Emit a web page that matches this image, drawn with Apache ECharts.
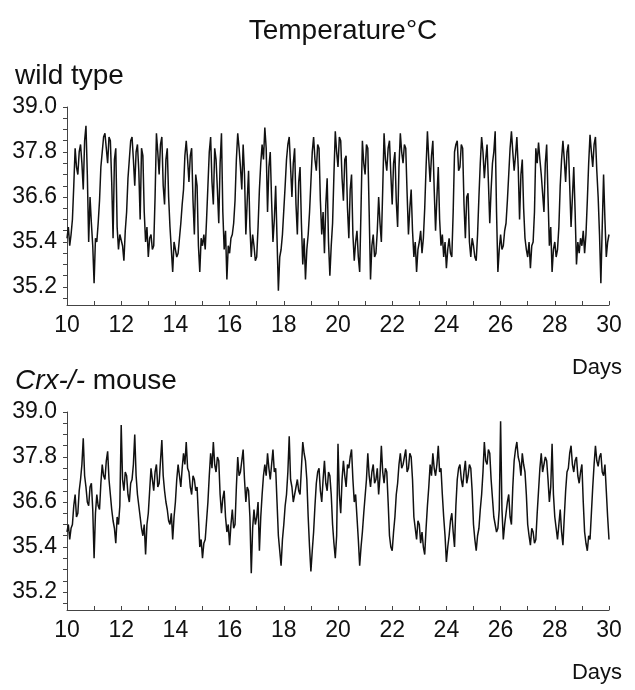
<!DOCTYPE html>
<html>
<head>
<meta charset="utf-8">
<script src="https://cdn.jsdelivr.net/npm/echarts@6/dist/echarts.min.js"></script>
<style>
html,body{margin:0;padding:0;background:#fff;}
#chart{width:635px;height:690px;}
</style>
</head>
<body>
<div id="chart"></div>
<script>
// sampling: one reading every 0.05 day starting at day 10
const startDay = 10;
const stepDay = 0.05;

// wild type body temperature (20 readings per day, days 10.00 .. 30.00)
const wildType = [
35.5,35.8,35.3,35.6,36.0,36.9,37.9,37.4,37.2,37.8,38.0,37.5,36.8,38.1,38.5,37.2,35.4,36.6,35.9,35.3,
34.3,35.5,35.4,35.9,36.5,37.4,37.8,38.2,38.3,37.9,37.5,38.2,38.1,37.0,35.5,37.6,37.9,35.8,35.2,35.6,
35.6,35.3,34.9,35.7,36.2,37.1,37.6,38.1,38.2,37.6,36.9,37.8,38.0,37.3,36.0,37.9,37.7,36.2,35.4,35.8,
35.0,35.5,35.6,35.2,35.3,36.6,38.3,37.8,37.2,38.0,38.2,36.9,36.4,37.6,37.9,36.6,35.8,35.2,34.6,35.4,
35.4,35.0,35.1,35.5,35.9,36.4,36.8,37.7,38.1,37.6,37.0,37.7,37.9,36.5,35.6,37.2,36.9,35.3,34.6,35.5,
35.3,35.6,35.2,36.0,36.9,37.8,38.2,37.0,36.4,37.9,37.6,36.8,35.9,37.5,38.3,36.2,35.2,35.7,34.4,35.3,
35.1,35.5,35.6,35.9,36.5,37.6,38.3,37.9,37.4,36.8,38.0,37.2,35.6,36.5,37.3,35.8,35.0,35.6,35.3,34.9,
35.0,35.8,36.8,37.5,38.0,37.6,38.45,37.9,36.2,37.4,37.8,36.5,35.4,36.0,36.9,35.5,34.1,35.0,35.2,35.6,
35.6,36.9,37.6,38.0,38.2,37.4,36.6,37.5,37.9,36.4,35.6,37.0,37.4,35.9,34.8,35.5,34.4,35.2,35.6,36.2,
37.0,37.8,38.2,37.6,37.3,38.0,37.9,36.5,35.6,36.2,35.1,36.4,37.1,35.4,34.5,35.3,35.9,37.2,38.35,37.8,
37.4,38.2,38.1,37.1,36.5,37.6,37.7,36.3,35.5,36.8,37.2,35.6,34.9,35.4,35.7,35.0,34.6,36.3,38.1,37.5,
37.2,38.0,37.9,36.2,34.4,35.3,35.6,35.0,35.1,35.7,36.6,35.9,35.4,36.8,38.3,37.6,37.3,37.9,38.1,37.2,
36.4,37.5,37.8,36.5,35.8,37.4,38.3,37.8,37.5,38.0,37.9,36.7,35.6,36.3,36.8,35.7,35.0,35.4,34.6,35.2,
35.4,35.7,35.1,35.5,36.3,37.4,38.35,37.6,37.0,37.7,38.1,36.8,35.7,36.6,37.4,36.0,35.3,35.6,35.0,35.4,
34.7,35.2,35.5,35.1,35.0,36.2,37.8,38.0,38.1,37.3,37.4,38.0,37.9,36.4,35.5,36.6,36.7,35.4,35.0,35.5,
35.3,35.0,34.9,35.6,36.6,37.5,38.2,37.8,37.1,37.6,38.0,37.0,35.9,36.8,37.5,37.8,38.35,36.2,34.6,35.2,
35.6,35.2,35.3,35.7,35.9,36.5,37.2,37.9,38.35,37.8,37.3,37.7,38.2,37.4,36.0,37.2,37.6,36.3,35.5,35.2,
35.0,35.4,34.7,35.3,35.4,36.2,37.9,37.5,38.05,37.6,37.2,36.7,36.2,37.5,38.0,36.6,35.3,35.8,34.6,35.2,
35.4,35.0,35.2,35.8,36.9,37.6,38.1,37.6,37.0,37.8,38.0,36.9,35.8,36.6,37.4,36.2,34.8,35.4,35.1,35.5,
35.3,35.7,35.1,35.6,36.5,37.5,38.26,37.8,37.4,38.0,38.2,37.3,36.6,35.6,34.3,35.8,37.2,36.0,35.0,35.4,
35.6
];

// Crx-/- mouse body temperature (20 readings per day, days 10.00 .. 30.00)
const crxMouse = [
35.8,36.0,35.6,35.9,36.0,36.5,36.8,36.2,36.3,36.9,37.2,37.6,38.3,37.3,37.0,36.6,36.5,37.0,37.1,36.4,
35.1,36.3,36.8,36.5,36.4,37.1,37.6,37.3,37.2,37.7,37.95,37.2,36.8,36.4,36.1,35.9,35.5,36.2,36.0,36.5,
38.65,37.2,36.9,37.4,37.3,36.8,36.6,37.1,37.2,37.6,38.4,37.3,36.8,36.5,36.2,35.9,35.7,36.0,35.2,36.0,
36.3,36.9,37.5,37.2,36.9,37.4,37.6,37.0,37.1,37.7,38.25,37.3,36.9,36.6,36.4,36.1,36.0,36.3,35.6,36.2,
36.6,37.2,37.6,37.3,37.0,37.5,37.9,37.6,38.2,37.5,37.4,37.0,36.8,37.3,37.2,36.9,37.0,36.2,35.4,35.6,
35.1,35.5,35.6,36.1,36.6,37.3,37.9,37.5,38.2,37.6,37.4,37.8,37.7,36.8,36.3,36.7,36.9,36.2,35.8,36.0,
35.45,36.0,36.4,35.9,36.0,37.0,37.8,37.3,37.4,37.7,38.0,37.2,36.6,37.0,36.9,36.2,34.7,35.9,36.4,36.0,
36.2,36.6,35.3,36.2,36.8,37.3,37.6,37.3,37.9,37.5,37.2,37.6,38.0,37.4,37.5,36.6,35.7,35.3,34.9,35.6,
36.0,36.5,36.8,37.4,38.35,37.2,37.0,36.6,36.6,37.0,37.2,36.9,36.8,37.5,38.2,37.9,37.7,37.2,36.2,35.4,
34.75,35.3,35.8,36.5,37.1,37.4,37.5,36.9,36.6,37.2,37.7,37.1,36.9,37.4,37.3,36.8,36.0,35.5,35.1,35.7,
38.15,36.8,36.3,37.2,37.7,37.3,37.0,37.6,37.5,37.8,38.0,37.2,36.6,36.8,36.2,35.6,34.9,35.4,35.8,36.3,
36.3,37.2,37.9,37.3,37.0,37.4,37.6,37.1,37.2,37.5,36.8,37.3,38.1,37.4,37.1,37.5,37.4,36.6,35.7,35.4,
35.3,35.8,36.2,36.8,37.1,37.6,37.9,37.5,37.6,37.8,38.0,37.4,37.5,37.9,37.8,37.2,36.2,35.9,35.6,36.1,
36.0,35.5,35.8,35.4,35.2,35.9,36.5,37.0,37.6,37.3,37.9,37.5,37.3,37.6,38.1,37.4,37.5,36.8,36.2,35.7,
35.0,35.4,35.7,36.1,36.3,35.8,35.4,36.5,37.2,37.5,37.6,37.2,37.0,37.4,37.7,37.1,37.3,37.6,37.5,36.9,
36.0,35.6,35.3,35.7,35.9,36.4,36.8,37.4,38.2,37.7,37.6,38.0,37.9,37.2,36.7,36.2,36.2,35.8,35.9,36.4,
38.75,36.4,35.6,36.0,36.3,36.6,36.8,36.2,36.0,37.0,37.7,38.0,38.2,37.8,37.65,37.3,37.9,37.6,37.4,36.8,
36.0,35.7,35.45,35.9,35.8,35.5,35.6,36.3,36.9,37.5,37.9,37.4,37.4,37.8,37.7,37.2,36.6,37.0,38.15,36.8,
36.2,35.9,35.6,36.0,36.4,35.8,35.45,36.2,36.9,37.4,37.5,37.9,38.1,37.6,37.4,37.7,37.8,37.3,37.1,37.4,
37.6,36.6,35.8,35.5,35.3,35.7,35.6,36.3,37.0,37.6,38.1,37.7,37.55,37.8,37.9,37.4,37.3,37.6,36.9,36.2,
35.6
];

// y tick positions and the labels printed at them (as in the figure)
const yTickValues = [34.2, 35.4, 36.6, 37.8, 39.0];
const yTickLabels = ['35.2', '35.4', '36.6', '37.8', '39.0'];
// x tick labels (days)
const xTickValues = [10, 12, 14, 16, 18, 20, 22, 24, 26, 28, 30];

const panelTitles = ['wild type', '{i|Crx-/-} mouse'];
const mainTitle = 'Temperature°C';
const xName = 'Days';

function toPairs(arr) {
  return arr.map((v, i) => [+(startDay + i * stepDay).toFixed(3), v]);
}

const FONT = 'Liberation Sans, Arial, sans-serif';
const yMinorTicks = [];
for (let k = 0; k <= 17; k++) yMinorTicks.push(+(33.9 + k * 0.3).toFixed(2));

function yAxisCfg(gi) {
  return {
    type: 'value', gridIndex: gi, min: 33.72, max: 39.0,
    axisLine: { show: true, lineStyle: { color: '#444', width: 1 } },
    axisTick: { show: true, inside: false, length: 4, customValues: yMinorTicks, lineStyle: { color: '#444' } },
    axisLabel: {
      show: true, customValues: yTickValues, margin: 10,
      fontFamily: FONT, fontSize: 23, color: '#111',
      formatter: function (v) {
        const idx = yTickValues.findIndex(t => Math.abs(t - v) < 1e-6);
        return idx >= 0 ? yTickLabels[idx] : '';
      }
    },
    splitLine: { show: false }
  };
}
function xAxisCfg(gi) {
  return {
    type: 'value', gridIndex: gi, min: 10, max: 30, interval: 1,
    axisLine: { show: true, onZero: false, lineStyle: { color: '#444', width: 1 } },
    axisTick: { show: true, inside: true, length: 4, lineStyle: { color: '#444' } },
    axisLabel: {
      show: true, customValues: xTickValues, margin: 9,
      fontFamily: FONT, fontSize: 23, color: '#111'
    },
    splitLine: { show: false }
  };
}

const chart = echarts.init(document.getElementById('chart'), null, { renderer: 'canvas' });
chart.setOption({
  animation: false,
  backgroundColor: '#fff',
  title: [
    { text: mainTitle, left: 338, top: 12, textAlign: 'center',
      textStyle: { fontFamily: FONT, fontSize: 28, fontWeight: 'normal', color: '#111' } },
    { text: panelTitles[0], left: 10, top: 57,
      textStyle: { fontFamily: FONT, fontSize: 28, fontWeight: 'normal', color: '#111' } },
    { text: panelTitles[1], left: 10, top: 362,
      textStyle: { fontFamily: FONT, fontSize: 28, fontWeight: 'normal', color: '#111',
        rich: { i: { fontFamily: FONT, fontSize: 28, fontStyle: 'italic', color: '#111' } } } }
  ],
  graphic: [
    { type: 'text', right: 13, top: 357, style: { text: xName, font: '22px ' + FONT, fill: '#111' } },
    { type: 'text', right: 13, top: 662, style: { text: xName, font: '22px ' + FONT, fill: '#111' } }
  ],
  grid: [
    { left: 67, right: 26, top: 107, height: 198 },
    { left: 67, right: 26, top: 412, height: 198 }
  ],
  xAxis: [xAxisCfg(0), xAxisCfg(1)],
  yAxis: [yAxisCfg(0), yAxisCfg(1)],
  series: [
    { type: 'line', xAxisIndex: 0, yAxisIndex: 0, data: toPairs(wildType), symbol: 'none',
      lineStyle: { color: '#111', width: 1.5 }, silent: true },
    { type: 'line', xAxisIndex: 1, yAxisIndex: 1, data: toPairs(crxMouse), symbol: 'none',
      lineStyle: { color: '#111', width: 1.5 }, silent: true }
  ]
});
</script>
</body>
</html>
